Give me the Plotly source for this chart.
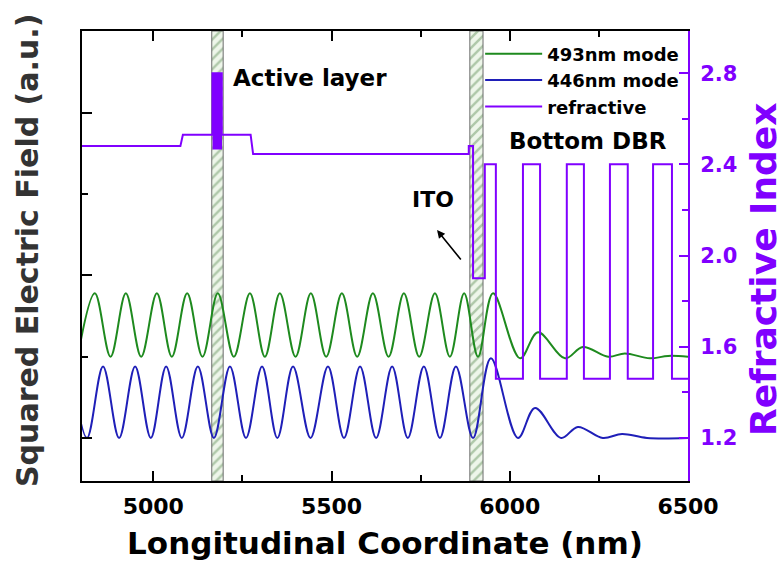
import plotly.graph_objects as go

FONT = "DejaVu Sans, Liberation Sans, Arial"
PURPLE = "#8000FF"
GREEN = "#1E8A1E"
BLUE = "#1F1FB8"

# ---------------- data ----------------
x_range = [4800, 6500]
x_tickvals = [5000, 5500, 6000, 6500]
n_tickvals = [1.2, 1.6, 2.0, 2.4, 2.8]
n_ticktext = ["1.2", "1.6", "2.0", "2.4", "2.8"]

# 493nm mode: read extrema (position nm, squared field a.u.)
g493_x = [4788, 4836, 4880, 4923, 4966, 5010, 5052, 5095, 5138, 5181, 5226, 5271,
          5313, 5355, 5399, 5442, 5485, 5529, 5572, 5616, 5660, 5703, 5746, 5790,
          5832, 5872, 5911, 5953, 6029, 6079, 6155, 6205, 6276, 6323, 6393, 6444, 6500]
g493_y = [0.50, 0.89, 0.50, 0.89, 0.50, 0.89, 0.50, 0.89, 0.50, 0.89, 0.50, 0.89,
          0.50, 0.89, 0.50, 0.89, 0.50, 0.89, 0.50, 0.89, 0.50, 0.89, 0.50, 0.89,
          0.50, 0.89, 0.50, 0.89, 0.49, 0.65, 0.49, 0.56, 0.50, 0.52, 0.49, 0.505, 0.50]

# 446nm mode
b446_x = [4770, 4814, 4859, 4904, 4949, 4993, 5036, 5080, 5125, 5170, 5215, 5260,
          5305, 5348, 5392, 5441, 5490, 5535, 5580, 5625, 5670, 5714, 5759, 5804,
          5849, 5897, 5947, 6023, 6071, 6144, 6191, 6261, 6315, 6385, 6500]
b446_y = [0.44, 0.00, 0.44, 0.00, 0.44, 0.00, 0.44, 0.00, 0.44, 0.00, 0.44, 0.00,
          0.44, 0.00, 0.44, 0.00, 0.44, 0.00, 0.44, 0.00, 0.44, 0.00, 0.44, 0.00,
          0.44, 0.00, 0.49, 0.00, 0.185, 0.00, 0.068, 0.00, 0.025, 0.00, 0.00]

# refractive index layers: start (nm), end (nm), index
layer_start = [4800, 5083, 5166, 5169, 5172, 5175, 5178, 5181, 5184, 5187, 5190,
               5192, 5280, 5885, 5897, 5930, 5961, 6037, 6085, 6160, 6208, 6281,
               6331, 6402, 6455]
layer_end = [5076, 5166, 5169, 5172, 5175, 5178, 5181, 5184, 5187, 5190, 5192,
             5273, 5885, 5897, 5930, 5961, 6037, 6085, 6160, 6208, 6281, 6331,
             6402, 6455, 6500]
layer_n = [2.48, 2.53, 2.80, 2.47, 2.80, 2.47, 2.80, 2.47, 2.80, 2.47, 2.80,
           2.53, 2.445, 2.48, 1.90, 2.40, 1.46, 2.40, 1.46, 2.40, 1.46, 2.40,
           1.46, 2.40, 1.46]

# highlighted regions (nm)
active_region = [5164, 5196]
ito_region = [5888, 5925]

# ---------------- figure ----------------
ri_x, ri_y = [], []
for s, e, n in zip(layer_start, layer_end, layer_n):
    ri_x += [s, e]
    ri_y += [n, n]

fig = go.Figure()

y_lo, y_hi = -0.265, 2.505
for reg in (active_region, ito_region):
    fig.add_trace(go.Scatter(
        x=[reg[0], reg[1], reg[1], reg[0], reg[0]],
        y=[y_lo, y_lo, y_hi, y_hi, y_lo],
        mode="lines", fill="toself",
        fillcolor="#eef6ea",
        fillpattern=dict(shape="/", fgcolor="#6f9a68", bgcolor="#eef6ea",
                         size=7, solidity=0.35),
        line=dict(color="#6d6d6d", width=1),
        showlegend=False, hoverinfo="skip"))

fig.add_trace(go.Scatter(x=g493_x, y=g493_y, mode="lines", name="493nm mode",
                         line=dict(color=GREEN, width=2, shape="spline", smoothing=1)))
fig.add_trace(go.Scatter(x=b446_x, y=b446_y, mode="lines", name="446nm mode",
                         line=dict(color=BLUE, width=2, shape="spline", smoothing=1)))
fig.add_trace(go.Scatter(x=ri_x, y=ri_y, mode="lines", name="refractive",
                         yaxis="y2", line=dict(color=PURPLE, width=2)))

fig.add_annotation(x=5218, y=2.215, xref="x", yref="y", text="Active layer",
                   showarrow=False, xanchor="left", yanchor="middle",
                   font=dict(family=FONT, size=23, color="black", weight="bold"))
fig.add_annotation(x=6447, y=1.83, xref="x", yref="y", text="Bottom DBR",
                   showarrow=False, xanchor="right", yanchor="middle",
                   font=dict(family=FONT, size=23, color="black", weight="bold"))
fig.add_annotation(x=5850, y=1.465, xref="x", yref="y", text="ITO",
                   showarrow=False, xanchor="right", yanchor="middle",
                   font=dict(family=FONT, size=22, color="black", weight="bold"))
fig.add_annotation(x=5796, y=1.28, xref="x", yref="y", text="",
                   showarrow=True, arrowhead=2, arrowsize=1, arrowwidth=1.6,
                   arrowcolor="black", ax=25, ay=31, standoff=0)

# axis titles for the two value axes
fig.add_annotation(x=-0.091, y=0.513, xref="paper", yref="paper",
                   text="Squared Electric Field (a.u.)", textangle=-90,
                   showarrow=False, xanchor="center", yanchor="middle",
                   font=dict(family=FONT, size=30, color="#333333", weight="bold"))
fig.add_annotation(x=1.1238, y=0.471, xref="paper", yref="paper",
                   text="Refractive Index", textangle=-90,
                   showarrow=False, xanchor="center", yanchor="middle",
                   font=dict(family=FONT, size=36, color=PURPLE, weight="bold"))

fig.update_layout(
    width=783, height=575,
    margin=dict(l=82, r=95, t=31, b=94),
    paper_bgcolor="white", plot_bgcolor="white",
    font=dict(family=FONT, size=20, color="black"),
    showlegend=True,
    legend=dict(x=0.657, y=0.99, xanchor="left", yanchor="top",
                bgcolor="rgba(0,0,0,0)", borderwidth=0,
                font=dict(family=FONT, size=18, color="black", weight="bold"),
                tracegroupgap=0, itemwidth=57),
    xaxis=dict(range=x_range, tickvals=x_tickvals, ticks="inside", ticklen=10,
               tickwidth=1.5, tickcolor="black", showline=True, linecolor="black",
               linewidth=1.5, mirror="ticks", showgrid=False, zeroline=False,
               minor=dict(tickvals=[5250, 5750, 6250], ticks="inside", ticklen=6,
                          tickwidth=1.5, tickcolor="black"),
               tickfont=dict(family=FONT, size=22, color="black", weight="bold"),
               ticklabelstandoff=5,
               title=dict(text="Longitudinal Coordinate (nm)", standoff=14,
                          font=dict(family=FONT, size=31, color="black", weight="bold"))),
    yaxis=dict(range=[y_lo, y_hi], tickvals=[0, 1, 2], ticks="inside", ticklen=10,
               tickwidth=1.5, tickcolor="black", showticklabels=False,
               showline=True, linecolor="black", linewidth=1.5, mirror=False,
               showgrid=False, zeroline=False,
               minor=dict(tickvals=[0.5, 1.5], ticks="inside", ticklen=6,
                          tickwidth=1.5, tickcolor="black")),
    yaxis2=dict(range=[1.011, 2.985], overlaying="y", side="right",
                tickvals=n_tickvals, ticktext=n_ticktext, ticks="inside", ticklen=9,
                tickwidth=1.5, tickcolor=PURPLE, showline=True, linecolor=PURPLE,
                linewidth=2, showgrid=False, zeroline=False,
                minor=dict(tickvals=[1.4, 1.8, 2.2, 2.6], ticks="inside", ticklen=6,
                           tickwidth=1.5, tickcolor=PURPLE),
                tickfont=dict(family=FONT, size=21, color=PURPLE, weight="bold"),
                ticklabelstandoff=6),
)

fig.write_html("out.html")
